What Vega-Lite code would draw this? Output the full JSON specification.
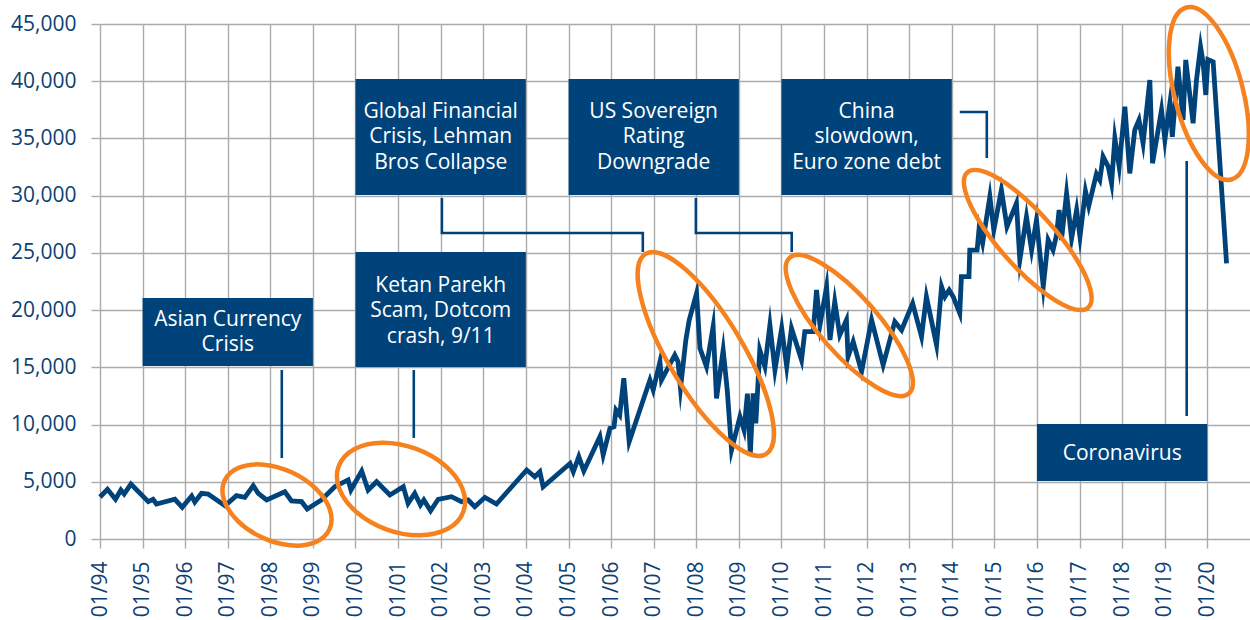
{
  "$schema": "https://vega.github.io/schema/vega-lite/v6.json",
  "width": 1150,
  "height": 515,
  "autosize": {"type": "none"},
  "padding": {"left": 100, "top": 24, "right": 0, "bottom": 81},
  "background": "white",
  "config": {
    "font": "Open Sans",
    "view": {"stroke": null},
    "axis": {
      "labelFont": "Open Sans",
      "labelFontSize": 21,
      "labelColor": "#0d3f73",
      "gridColor": "#ababab",
      "gridWidth": 1.4,
      "tickColor": "#ababab",
      "tickWidth": 1.4,
      "tickSize": 9,
      "domain": false,
      "title": null
    }
  },
  "datasets": {
    "sensex": [
      {"date": "1994-01-01", "value": 3670},
      {"date": "1994-03-06", "value": 4340},
      {"date": "1994-05-14", "value": 3470},
      {"date": "1994-06-29", "value": 4280},
      {"date": "1994-07-27", "value": 3930},
      {"date": "1994-09-23", "value": 4800},
      {"date": "1995-02-19", "value": 3260},
      {"date": "1995-04-01", "value": 3470},
      {"date": "1995-04-30", "value": 3060},
      {"date": "1995-10-05", "value": 3470},
      {"date": "1995-12-07", "value": 2770},
      {"date": "1996-02-26", "value": 3760},
      {"date": "1996-03-24", "value": 3230},
      {"date": "1996-05-21", "value": 3990},
      {"date": "1996-07-16", "value": 3930},
      {"date": "1996-12-08", "value": 2910},
      {"date": "1997-03-16", "value": 3790},
      {"date": "1997-05-27", "value": 3640},
      {"date": "1997-08-07", "value": 4660},
      {"date": "1997-09-19", "value": 3990},
      {"date": "1997-11-30", "value": 3410},
      {"date": "1998-05-05", "value": 4130},
      {"date": "1998-07-01", "value": 3320},
      {"date": "1998-09-26", "value": 3260},
      {"date": "1998-11-13", "value": 2620},
      {"date": "1999-03-15", "value": 3410},
      {"date": "1999-07-07", "value": 4570},
      {"date": "1999-10-30", "value": 5160},
      {"date": "1999-11-23", "value": 4280},
      {"date": "2000-02-23", "value": 5940},
      {"date": "2000-04-18", "value": 4280},
      {"date": "2000-06-30", "value": 5010},
      {"date": "2000-10-22", "value": 3850},
      {"date": "2001-02-14", "value": 4570},
      {"date": "2001-03-27", "value": 3120},
      {"date": "2001-05-23", "value": 3990},
      {"date": "2001-07-11", "value": 2970},
      {"date": "2001-08-09", "value": 3410},
      {"date": "2001-10-06", "value": 2470},
      {"date": "2001-12-10", "value": 3470},
      {"date": "2002-04-03", "value": 3700},
      {"date": "2002-06-28", "value": 3260},
      {"date": "2002-08-24", "value": 3410},
      {"date": "2002-10-20", "value": 2820},
      {"date": "2003-01-15", "value": 3640},
      {"date": "2003-04-24", "value": 3060},
      {"date": "2004-01-08", "value": 6030},
      {"date": "2004-03-18", "value": 5440},
      {"date": "2004-04-30", "value": 5880},
      {"date": "2004-05-28", "value": 4570},
      {"date": "2005-01-14", "value": 6600},
      {"date": "2005-02-11", "value": 5880},
      {"date": "2005-03-30", "value": 7190},
      {"date": "2005-05-12", "value": 5950},
      {"date": "2005-09-27", "value": 8940},
      {"date": "2005-10-25", "value": 7340},
      {"date": "2005-12-22", "value": 9670},
      {"date": "2006-01-26", "value": 9810},
      {"date": "2006-02-12", "value": 11270},
      {"date": "2006-03-16", "value": 10830},
      {"date": "2006-04-20", "value": 14040},
      {"date": "2006-06-05", "value": 8500},
      {"date": "2006-11-30", "value": 13890},
      {"date": "2006-12-28", "value": 13020},
      {"date": "2007-02-24", "value": 15490},
      {"date": "2007-03-09", "value": 13890},
      {"date": "2007-07-01", "value": 16080},
      {"date": "2007-07-29", "value": 15490},
      {"date": "2007-08-19", "value": 13170},
      {"date": "2007-10-04", "value": 17390},
      {"date": "2007-11-02", "value": 19140},
      {"date": "2008-01-04", "value": 21470},
      {"date": "2008-02-02", "value": 16660},
      {"date": "2008-03-29", "value": 15060},
      {"date": "2008-05-25", "value": 18550},
      {"date": "2008-06-23", "value": 12290},
      {"date": "2008-08-19", "value": 16510},
      {"date": "2008-09-23", "value": 13020},
      {"date": "2008-10-30", "value": 7780},
      {"date": "2009-01-10", "value": 10690},
      {"date": "2009-02-14", "value": 9520},
      {"date": "2009-03-15", "value": 12700},
      {"date": "2009-04-09", "value": 7400},
      {"date": "2009-05-03", "value": 12730},
      {"date": "2009-05-26", "value": 10110},
      {"date": "2009-06-29", "value": 16510},
      {"date": "2009-08-12", "value": 15060},
      {"date": "2009-09-24", "value": 18700},
      {"date": "2009-11-06", "value": 14770},
      {"date": "2010-01-03", "value": 18410},
      {"date": "2010-02-15", "value": 15060},
      {"date": "2010-03-28", "value": 18410},
      {"date": "2010-06-22", "value": 15640},
      {"date": "2010-07-20", "value": 18120},
      {"date": "2010-09-30", "value": 18120},
      {"date": "2010-10-29", "value": 21760},
      {"date": "2010-11-27", "value": 18700},
      {"date": "2011-01-23", "value": 22050},
      {"date": "2011-02-21", "value": 17390},
      {"date": "2011-04-03", "value": 20740},
      {"date": "2011-05-16", "value": 17830},
      {"date": "2011-07-12", "value": 19140},
      {"date": "2011-07-26", "value": 15930},
      {"date": "2011-09-08", "value": 17240},
      {"date": "2011-11-19", "value": 14620},
      {"date": "2012-02-13", "value": 19140},
      {"date": "2012-05-22", "value": 15200},
      {"date": "2012-08-30", "value": 18990},
      {"date": "2012-10-27", "value": 18260},
      {"date": "2013-01-30", "value": 20590},
      {"date": "2013-04-16", "value": 17680},
      {"date": "2013-05-28", "value": 21170},
      {"date": "2013-08-23", "value": 16950},
      {"date": "2013-10-05", "value": 22050},
      {"date": "2013-11-03", "value": 21170},
      {"date": "2013-12-09", "value": 21760},
      {"date": "2014-01-13", "value": 21170},
      {"date": "2014-03-10", "value": 19720},
      {"date": "2014-03-24", "value": 22920},
      {"date": "2014-05-28", "value": 22920},
      {"date": "2014-06-04", "value": 25250},
      {"date": "2014-08-06", "value": 25250},
      {"date": "2014-08-23", "value": 27150},
      {"date": "2014-09-22", "value": 25840},
      {"date": "2014-11-23", "value": 29910},
      {"date": "2014-12-27", "value": 27000},
      {"date": "2015-03-02", "value": 30500},
      {"date": "2015-04-19", "value": 27290},
      {"date": "2015-07-09", "value": 29330},
      {"date": "2015-08-07", "value": 24380},
      {"date": "2015-10-03", "value": 28160},
      {"date": "2015-11-16", "value": 25250},
      {"date": "2015-12-28", "value": 27870},
      {"date": "2016-02-24", "value": 22050},
      {"date": "2016-04-06", "value": 26130},
      {"date": "2016-05-18", "value": 25250},
      {"date": "2016-06-17", "value": 26560},
      {"date": "2016-07-09", "value": 28750},
      {"date": "2016-07-29", "value": 26130},
      {"date": "2016-09-11", "value": 30210},
      {"date": "2016-10-24", "value": 26270},
      {"date": "2016-12-06", "value": 28750},
      {"date": "2017-01-04", "value": 26410},
      {"date": "2017-02-20", "value": 30400},
      {"date": "2017-03-20", "value": 29100},
      {"date": "2017-05-25", "value": 31900},
      {"date": "2017-06-23", "value": 31370},
      {"date": "2017-07-21", "value": 33410},
      {"date": "2017-09-03", "value": 32540},
      {"date": "2017-10-02", "value": 31080},
      {"date": "2017-10-30", "value": 35010},
      {"date": "2017-12-06", "value": 32540},
      {"date": "2018-01-24", "value": 37780},
      {"date": "2018-03-07", "value": 31950},
      {"date": "2018-04-19", "value": 35740},
      {"date": "2018-05-25", "value": 36620},
      {"date": "2018-06-29", "value": 34580},
      {"date": "2018-08-26", "value": 40110},
      {"date": "2018-09-18", "value": 32830},
      {"date": "2018-12-04", "value": 37490},
      {"date": "2019-01-02", "value": 34870},
      {"date": "2019-02-14", "value": 38070},
      {"date": "2019-03-07", "value": 35150},
      {"date": "2019-04-24", "value": 41270},
      {"date": "2019-06-07", "value": 36620},
      {"date": "2019-06-30", "value": 41860},
      {"date": "2019-09-01", "value": 36330},
      {"date": "2019-09-30", "value": 40110},
      {"date": "2019-11-04", "value": 43000},
      {"date": "2019-11-26", "value": 41600},
      {"date": "2019-12-19", "value": 38800},
      {"date": "2020-01-06", "value": 41900},
      {"date": "2020-02-20", "value": 41700},
      {"date": "2020-06-14", "value": 24090}
    ],
    "boxes": [
      {"id": "asia", "date": "1995-01-01", "date2": "1999-01-01", "value": 15120, "value2": 21060},
      {"id": "ketan", "date": "2000-01-01", "date2": "2004-01-01", "value": 15030, "value2": 25080},
      {"id": "gfc", "date": "2000-01-01", "date2": "2004-01-01", "value": 30060, "value2": 40190},
      {"id": "us", "date": "2005-01-01", "date2": "2009-01-01", "value": 30060, "value2": 40190},
      {"id": "china", "date": "2010-01-01", "date2": "2014-01-01", "value": 30060, "value2": 40190},
      {"id": "corona", "date": "2016-01-01", "date2": "2020-01-01", "value": 5070, "value2": 10050}
    ],
    "labels": [
      {"id": "asia", "date": "1997-01-01", "value": 19136, "label": "Asian Currency|Crisis"},
      {"id": "ketan", "date": "2002-01-01", "value": 22107, "label": "Ketan Parekh|Scam, Dotcom|crash, 9/11"},
      {"id": "gfc", "date": "2002-01-01", "value": 37311, "label": "Global Financial|Crisis, Lehman|Bros Collapse"},
      {"id": "us", "date": "2007-01-01", "value": 37311, "label": "US Sovereign|Rating|Downgrade"},
      {"id": "china", "date": "2012-01-01", "value": 37311, "label": "China|slowdown,|Euro zone debt"},
      {"id": "corona", "date": "2018-01-01", "value": 7427, "label": "Coronavirus"}
    ],
    "connectors": [
      {"cid": "asia", "ord": 1, "date": "1998-04-09", "value": 14770},
      {"cid": "asia", "ord": 2, "date": "1998-04-09", "value": 7080},
      {"cid": "ketan", "ord": 1, "date": "2001-05-15", "value": 14770},
      {"cid": "ketan", "ord": 2, "date": "2001-05-15", "value": 8830},
      {"cid": "gfc", "ord": 1, "date": "2002-01-11", "value": 29800},
      {"cid": "gfc", "ord": 2, "date": "2002-01-11", "value": 26740},
      {"cid": "gfc", "ord": 3, "date": "2006-09-30", "value": 26740},
      {"cid": "gfc", "ord": 4, "date": "2006-09-30", "value": 25080},
      {"cid": "us", "ord": 1, "date": "2007-12-29", "value": 29800},
      {"cid": "us", "ord": 2, "date": "2007-12-29", "value": 26740},
      {"cid": "us", "ord": 3, "date": "2010-03-30", "value": 26740},
      {"cid": "us", "ord": 4, "date": "2010-03-30", "value": 25080},
      {"cid": "china", "ord": 1, "date": "2014-03-10", "value": 37310},
      {"cid": "china", "ord": 2, "date": "2014-10-28", "value": 37310},
      {"cid": "china", "ord": 3, "date": "2014-10-28", "value": 33290},
      {"cid": "corona", "ord": 1, "date": "2019-07-08", "value": 33030},
      {"cid": "corona", "ord": 2, "date": "2019-07-08", "value": 10750}
    ],
    "ellipses": [
      {"id": "asia", "date": "1998-02-27", "value": 2971},
      {"id": "ketan", "date": "2001-01-25", "value": 4369},
      {"id": "gfc", "date": "2008-03-23", "value": 16165},
      {"id": "us", "date": "2011-08-06", "value": 18656},
      {"id": "china", "date": "2015-10-14", "value": 26127},
      {"id": "corona", "date": "2020-01-14", "value": 38928}
    ]
  },
  "encoding": {
    "x": {
      "field": "date",
      "type": "temporal",
      "scale": {"type": "utc", "domain": [{"year": 1994, "month": 1, "date": 1, "utc": true}, {"year": 2021, "month": 1, "date": 1, "utc": true}], "nice": false},
      "axis": {
        "values": [
          {"year": 1994, "month": 1, "date": 1, "utc": true},
          {"year": 1995, "month": 1, "date": 1, "utc": true},
          {"year": 1996, "month": 1, "date": 1, "utc": true},
          {"year": 1997, "month": 1, "date": 1, "utc": true},
          {"year": 1998, "month": 1, "date": 1, "utc": true},
          {"year": 1999, "month": 1, "date": 1, "utc": true},
          {"year": 2000, "month": 1, "date": 1, "utc": true},
          {"year": 2001, "month": 1, "date": 1, "utc": true},
          {"year": 2002, "month": 1, "date": 1, "utc": true},
          {"year": 2003, "month": 1, "date": 1, "utc": true},
          {"year": 2004, "month": 1, "date": 1, "utc": true},
          {"year": 2005, "month": 1, "date": 1, "utc": true},
          {"year": 2006, "month": 1, "date": 1, "utc": true},
          {"year": 2007, "month": 1, "date": 1, "utc": true},
          {"year": 2008, "month": 1, "date": 1, "utc": true},
          {"year": 2009, "month": 1, "date": 1, "utc": true},
          {"year": 2010, "month": 1, "date": 1, "utc": true},
          {"year": 2011, "month": 1, "date": 1, "utc": true},
          {"year": 2012, "month": 1, "date": 1, "utc": true},
          {"year": 2013, "month": 1, "date": 1, "utc": true},
          {"year": 2014, "month": 1, "date": 1, "utc": true},
          {"year": 2015, "month": 1, "date": 1, "utc": true},
          {"year": 2016, "month": 1, "date": 1, "utc": true},
          {"year": 2017, "month": 1, "date": 1, "utc": true},
          {"year": 2018, "month": 1, "date": 1, "utc": true},
          {"year": 2019, "month": 1, "date": 1, "utc": true},
          {"year": 2020, "month": 1, "date": 1, "utc": true}
        ],
        "format": "%m/%y",
        "labelAngle": -90,
        "labelPadding": 13,
        "labelOverlap": false,
        "grid": true
      }
    },
    "y": {
      "field": "value",
      "type": "quantitative",
      "scale": {"domain": [0, 45000], "nice": false, "zero": true},
      "axis": {
        "values": [0, 5000, 10000, 15000, 20000, 25000, 30000, 35000, 40000, 45000],
        "format": ",.0f",
        "labelPadding": 15,
        "grid": true
      }
    }
  },
  "layer": [
    {
      "data": {"name": "boxes"},
      "mark": {"type": "rect", "color": "#00437b"},
      "encoding": {
        "x2": {"field": "date2"},
        "y2": {"field": "value2"}
      }
    },
    {
      "data": {"name": "labels"},
      "mark": {"type": "text", "color": "white", "font": "Open Sans", "fontSize": 21, "lineBreak": "|", "lineHeight": 25.5, "align": "center", "baseline": "middle"},
      "encoding": {
        "text": {"field": "label"}
      }
    },
    {
      "data": {"name": "connectors"},
      "mark": {"type": "line", "color": "#00437b", "strokeWidth": 2.6, "strokeCap": "butt"},
      "encoding": {
        "detail": {"field": "cid"},
        "order": {"field": "ord", "type": "quantitative"}
      }
    },
    {
      "data": {"name": "sensex"},
      "mark": {"type": "line", "color": "#00427a", "strokeWidth": 4.8, "strokeJoin": "miter", "strokeMiterLimit": 10},
      "encoding": {}
    },
    {
      "data": {"name": "ellipses"},
      "mark": {"type": "point", "filled": false, "stroke": "#f5821f", "strokeWidth": 4.5, "size": 10000, "opacity": 1},
      "encoding": {
        "shape": {
          "field": "id",
          "type": "nominal",
          "legend": null,
          "scale": {
            "domain": ["asia", "ketan", "gfc", "us", "china", "corona"],
            "range": [
              "M 1.0477 0.4885 A 1.156 0.712 25 1 1 -1.0477 -0.4885 A 1.156 0.712 25 1 1 1.0477 0.4885 Z",
              "M 1.246 0.4535 A 1.326 0.852 20 1 1 -1.246 -0.4535 A 1.326 0.852 20 1 1 1.246 0.4535 Z",
              "M 1.2031 2.0024 A 2.336 0.744 59 1 1 -1.2031 -2.0024 A 2.336 0.744 59 1 1 1.2031 2.0024 Z",
              "M 1.192 1.3569 A 1.806 0.58 48.7 1 1 -1.192 -1.3569 A 1.806 0.58 48.7 1 1 1.192 1.3569 Z",
              "M 1.2077 1.3508 A 1.812 0.546 48.2 1 1 -1.2077 -1.3508 A 1.812 0.546 48.2 1 1 1.2077 1.3508 Z",
              "M 0.4482 1.7206 A 1.778 0.684 75.4 1 1 -0.4482 -1.7206 A 1.778 0.684 75.4 1 1 0.4482 1.7206 Z"
            ]
          }
        }
      }
    }
  ]
}
